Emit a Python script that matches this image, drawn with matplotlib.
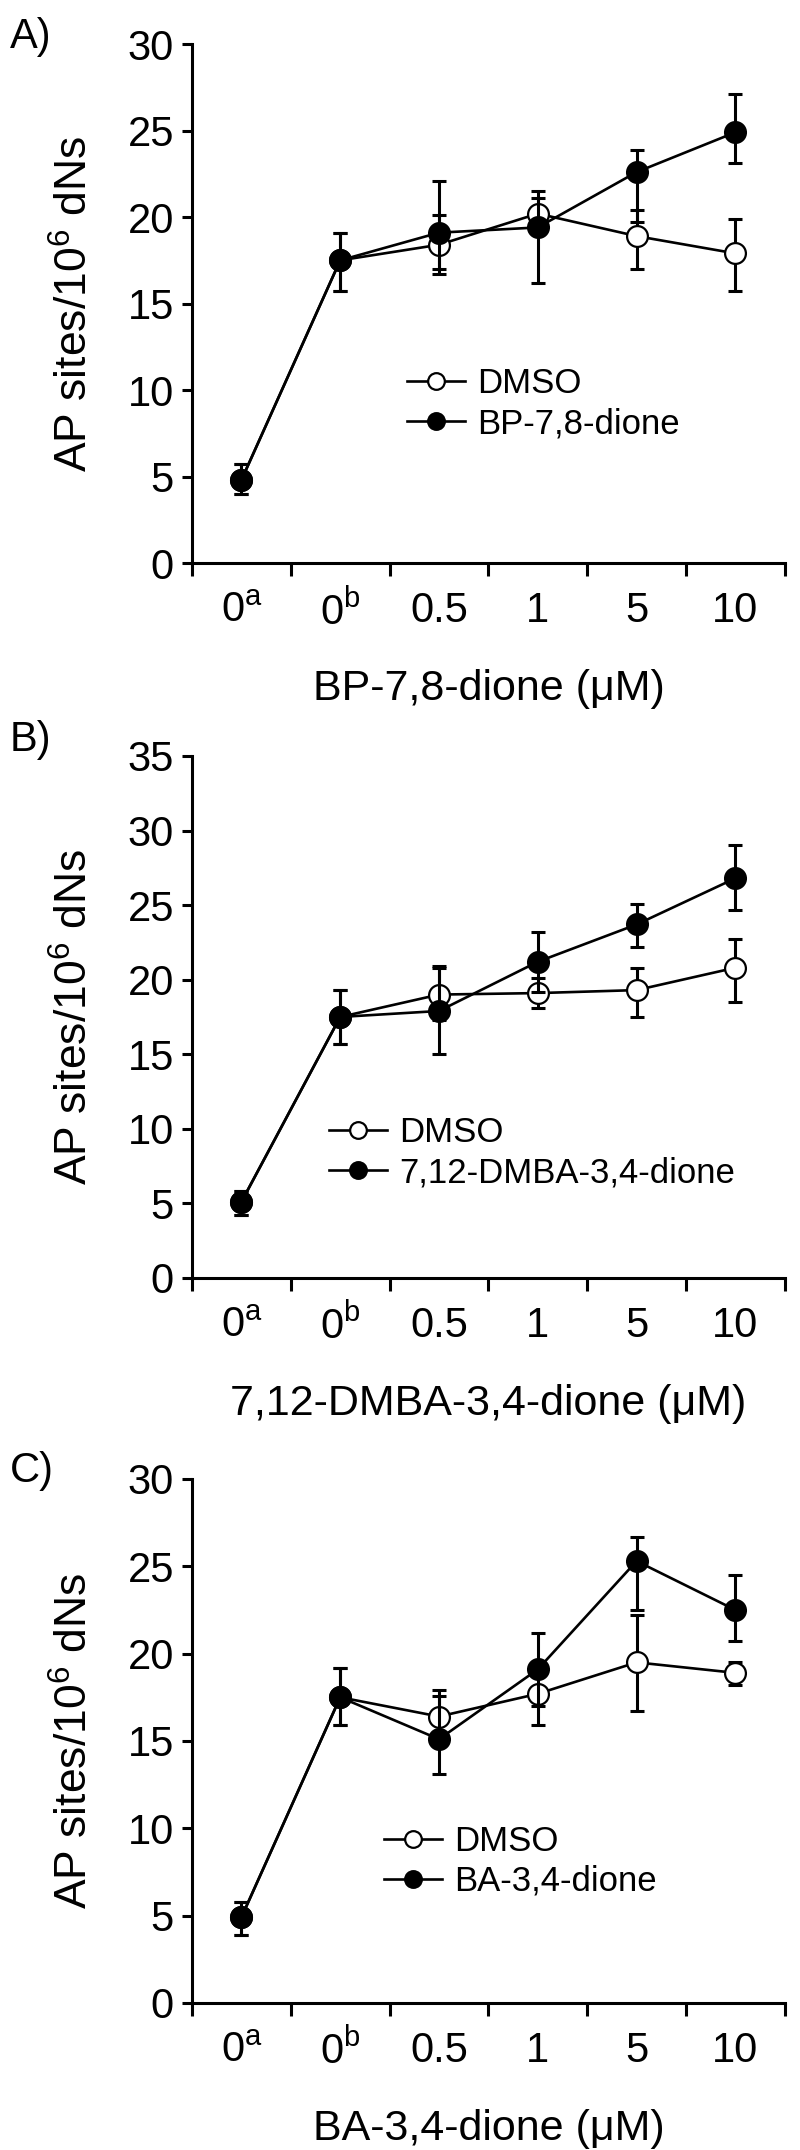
"""AP sites per 10^6 dNs after dione treatment: three stacked panels (A-C)."""
import matplotlib

matplotlib.use("Agg")
import matplotlib.pyplot as plt
import numpy as np

plt.rcParams["font.family"] = ["Liberation Sans", "DejaVu Sans"]
plt.rcParams["mathtext.fontset"] = "custom"
plt.rcParams["mathtext.rm"] = "Liberation Sans"
plt.rcParams["mathtext.it"] = "Liberation Sans:italic"
plt.rcParams["mathtext.default"] = "regular"

CATS = ["0$^{a}$", "0$^{b}$", "0.5", "1", "5", "10"]

# panel A: BP-7,8-dione
A_DMSO = [4.8, 17.5, 18.4, 20.2, 18.9, 17.9]
A_DMSO_LO = [4.0, 15.7, 17.0, 19.0, 17.0, 15.7]
A_DMSO_HI = [5.7, 19.1, 20.1, 21.5, 20.4, 19.9]
A_DRUG = [4.8, 17.5, 19.1, 19.4, 22.6, 24.9]
A_DRUG_LO = [4.0, 15.7, 16.7, 16.2, 19.7, 23.1]
A_DRUG_HI = [5.7, 19.1, 22.1, 21.1, 23.9, 27.1]

# panel B: 7,12-DMBA-3,4-dione
B_DMSO = [5.1, 17.5, 19.0, 19.1, 19.3, 20.8]
B_DMSO_LO = [4.2, 15.7, 17.3, 18.1, 17.5, 18.5]
B_DMSO_HI = [5.8, 19.3, 20.8, 20.1, 20.8, 22.7]
B_DRUG = [5.1, 17.5, 17.9, 21.2, 23.7, 26.8]
B_DRUG_LO = [4.2, 15.7, 15.0, 19.2, 22.2, 24.7]
B_DRUG_HI = [5.8, 19.3, 20.9, 23.2, 25.1, 29.0]

# panel C: BA-3,4-dione
C_DMSO = [4.9, 17.5, 16.4, 17.7, 19.5, 18.9]
C_DMSO_LO = [3.9, 15.9, 14.9, 15.9, 16.7, 18.2]
C_DMSO_HI = [5.8, 19.2, 17.9, 19.5, 22.2, 19.5]
C_DRUG = [4.9, 17.5, 15.1, 19.1, 25.3, 22.5]
C_DRUG_LO = [3.9, 15.9, 13.1, 17.0, 22.5, 20.7]
C_DRUG_HI = [5.8, 19.2, 17.6, 21.2, 26.7, 24.5]

PANELS = [
    dict(tag="A)", drug="BP-7,8-dione", ymax=30,
         dmso=(A_DMSO, A_DMSO_LO, A_DMSO_HI), treat=(A_DRUG, A_DRUG_LO, A_DRUG_HI),
         rect=[0.240, 0.7381, 0.741, 0.2414], leg=(0.3626, 0.307), tag_y=0.992),
    dict(tag="B)", drug="7,12-DMBA-3,4-dione", ymax=35,
         dmso=(B_DMSO, B_DMSO_LO, B_DMSO_HI), treat=(B_DRUG, B_DRUG_LO, B_DRUG_HI),
         rect=[0.240, 0.4056, 0.741, 0.2428], leg=(0.231, 0.2395), tag_y=0.665),
    dict(tag="C)", drug="BA-3,4-dione", ymax=30,
         dmso=(C_DMSO, C_DMSO_LO, C_DMSO_HI), treat=(C_DRUG, C_DRUG_LO, C_DRUG_HI),
         rect=[0.240, 0.0684, 0.741, 0.2437], leg=(0.324, 0.270), tag_y=0.325),
]


def draw_series(ax, vals, label, face, z):
    y, lo, hi = (np.asarray(v) for v in vals)
    x = np.arange(len(y)) + 0.5
    ax.errorbar(x, y, yerr=[y - lo, hi - y], fmt="none", ecolor="black",
                elinewidth=2.2, capsize=5, capthick=2.2, zorder=z)
    ax.plot(x, y, "-o", color="black", lw=1.9, ms=15, mfc=face, mec="black",
            mew=1.6, label=label, zorder=z + 0.5)


fig = plt.figure(figsize=(8, 21.5), dpi=100)

for p in PANELS:
    ax = fig.add_axes(p["rect"])
    draw_series(ax, p["dmso"], "DMSO", "white", 3)
    draw_series(ax, p["treat"], p["drug"], "black", 4)

    ax.set_xlim(0, len(CATS))
    ax.set_ylim(0, p["ymax"])
    ax.set_yticks(np.arange(0, p["ymax"] + 1, 5))
    ax.set_xticks(np.arange(0, len(CATS) + 1))
    ax.set_xticklabels([])
    ax.set_xticks(np.arange(len(CATS)) + 0.5, minor=True)
    ax.set_xticklabels(CATS, minor=True)
    ax.tick_params(axis="x", which="major", length=9, width=2.2, direction="out")
    ax.tick_params(axis="x", which="minor", length=0, pad=20, labelsize=30)
    ax.tick_params(axis="y", length=7, width=2.2, pad=6, labelsize=30)
    for side in ("top", "right"):
        ax.spines[side].set_visible(False)
    for side in ("left", "bottom"):
        ax.spines[side].set_linewidth(2.2)

    ax.set_ylabel("AP sites/10$^{6}$ dNs", fontsize=32)
    ax.yaxis.set_label_coords(-0.16, 0.5)
    ax.set_xlabel(f"{p['drug']} (\u03bcM)", fontsize=31, labelpad=26)

    ax.legend(loc="center left", bbox_to_anchor=p["leg"], frameon=False,
              fontsize=25, handlelength=1.67, handletextpad=0.35,
              labelspacing=0.2, borderpad=0, borderaxespad=0, markerscale=0.8)

    fig.text(0.012, p["tag_y"], p["tag"], fontsize=30, va="top", ha="left")

fig.savefig("out.png", dpi=100)
